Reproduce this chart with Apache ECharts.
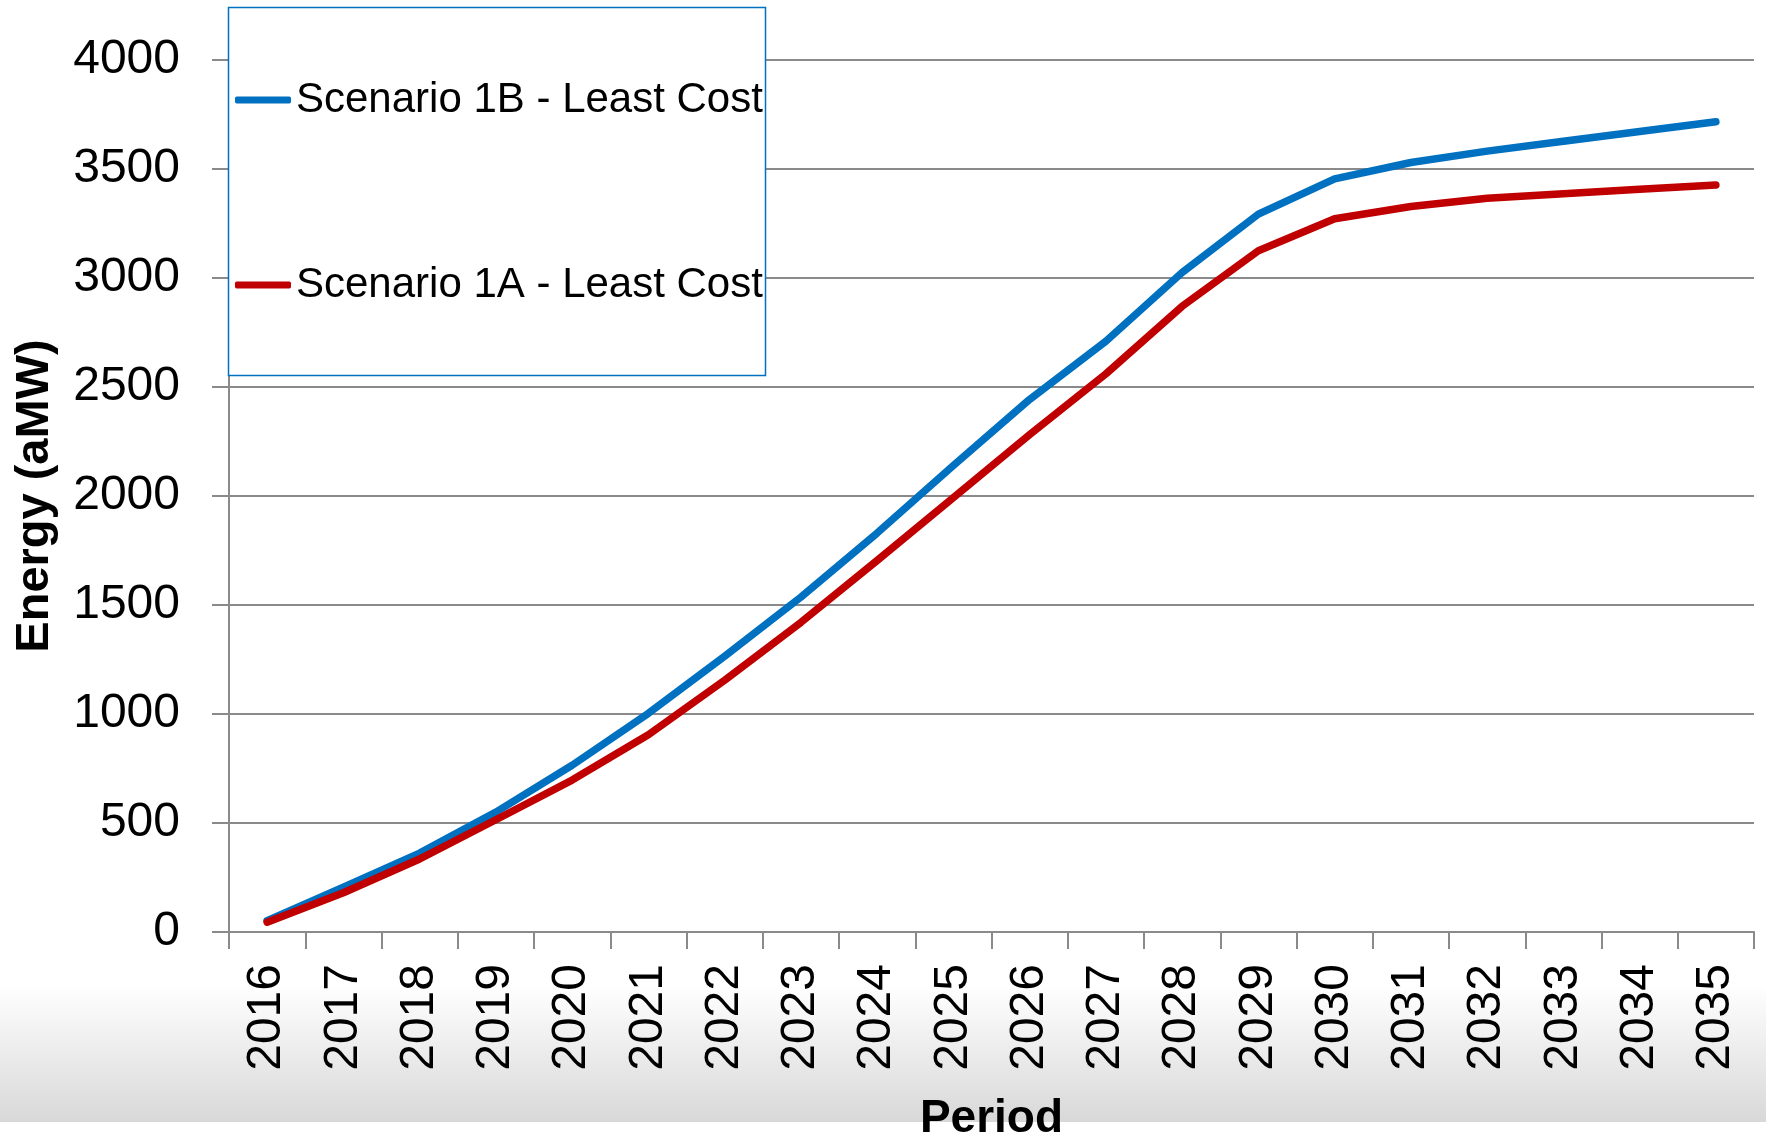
<!DOCTYPE html>
<html>
<head>
<meta charset="utf-8">
<title>Energy (aMW) by Period</title>
<script src="https://cdn.jsdelivr.net/npm/echarts@6/dist/echarts.min.js"></script>
<style>
  html, body { margin: 0; padding: 0; background: #ffffff; }
  #chart { width: 1766px; height: 1138px; }
</style>
</head>
<body>
<div id="chart"></div>
<script>
// Years on the category axis
const periods = ['2016', '2017', '2018', '2019', '2020', '2021', '2022', '2023', '2024', '2025',
                 '2026', '2027', '2028', '2029', '2030', '2031', '2032', '2033', '2034', '2035'];

// Cumulative energy (aMW) for each scenario
const scenario1B = [52, 205, 362, 550, 765, 1003, 1265, 1536, 1830, 2140,
                    2443, 2710, 3025, 3293, 3455, 3530, 3582, 3627, 3672, 3717];
const scenario1A = [45, 180, 335, 515, 697, 905, 1155, 1420, 1704, 1993,
                    2282, 2560, 2870, 3125, 3272, 3328, 3366, 3387, 3407, 3427];

const seriesNames = ['Scenario 1B - Least Cost', 'Scenario 1A - Least Cost'];
const seriesColors = ['#0070C0', '#C00000'];

const FONT = '"Liberation Sans", Arial, sans-serif';
const GRID_GREY = '#8a8a8a';

const chart = echarts.init(document.getElementById('chart'), null, { renderer: 'canvas' });

chart.setOption({
  backgroundColor: '#ffffff',
  animation: false,
  textStyle: { fontFamily: FONT },
  graphic: [
    {
      // soft grey band at the foot of the chart
      type: 'rect',
      z: -10,
      silent: true,
      shape: { x: 0, y: 985, width: 1766, height: 137 },
      style: {
        fill: new echarts.graphic.LinearGradient(0, 0, 0, 1, [
          { offset: 0, color: '#ffffff' },
          { offset: 1, color: '#d8d8d8' }
        ])
      }
    },
    {
      // framed white legend panel
      type: 'rect',
      z: 3,
      silent: true,
      shape: { x: 228.5, y: 7.5, width: 537, height: 368 },
      style: { fill: '#ffffff', stroke: '#0070C0', lineWidth: 1.5 }
    }
  ],
  legend: {
    orient: 'vertical',
    left: 235,
    top: 70,
    padding: 0,
    itemGap: 125,
    itemWidth: 56,
    itemHeight: 7,
    icon: 'roundRect',
    z: 4,
    data: seriesNames,
    textStyle: {
      fontFamily: FONT,
      fontSize: 42,
      color: '#000000',
      lineHeight: 60
    }
  },
  grid: {
    left: 229,
    right: 12,
    top: 60,
    bottom: 206,
    containLabel: false,
    outerBoundsMode: 'none'
  },
  xAxis: {
    type: 'category',
    data: periods,
    boundaryGap: true,
    name: 'Period',
    nameLocation: 'middle',
    nameGap: 164,
    nameTextStyle: { fontFamily: FONT, fontSize: 46, fontWeight: 'bold', color: '#000000' },
    axisLine: { show: true, lineStyle: { color: GRID_GREY, width: 2 } },
    axisTick: { show: true, interval: 0, length: 17, alignWithLabel: false, lineStyle: { color: GRID_GREY, width: 2 } },
    axisLabel: {
      interval: 0,
      rotate: 90,
      margin: 32,
      fontFamily: FONT,
      fontSize: 48,
      color: '#000000'
    },
    splitLine: { show: false }
  },
  yAxis: {
    type: 'value',
    min: 0,
    max: 4000,
    interval: 500,
    name: 'Energy (aMW)',
    nameLocation: 'middle',
    nameRotate: 90,
    nameGap: 170,
    nameTextStyle: { fontFamily: FONT, fontSize: 47, fontWeight: 'bold', color: '#000000' },
    axisLine: { show: true, lineStyle: { color: GRID_GREY, width: 2 } },
    axisTick: { show: true, length: 17, lineStyle: { color: GRID_GREY, width: 2 } },
    axisLabel: {
      margin: 49,
      fontFamily: FONT,
      fontSize: 48,
      color: '#000000',
      formatter: (v) => String(v)
    },
    splitLine: { show: true, lineStyle: { color: GRID_GREY, width: 2 } }
  },
  series: [
    {
      name: seriesNames[0],
      type: 'line',
      data: scenario1B,
      symbol: 'none',
      smooth: false,
      color: seriesColors[0],
      lineStyle: { color: seriesColors[0], width: 7.5, cap: 'round', join: 'round' },
      z: 2
    },
    {
      name: seriesNames[1],
      type: 'line',
      data: scenario1A,
      symbol: 'none',
      smooth: false,
      color: seriesColors[1],
      lineStyle: { color: seriesColors[1], width: 7.5, cap: 'round', join: 'round' },
      z: 2
    }
  ]
});
</script>
</body>
</html>
